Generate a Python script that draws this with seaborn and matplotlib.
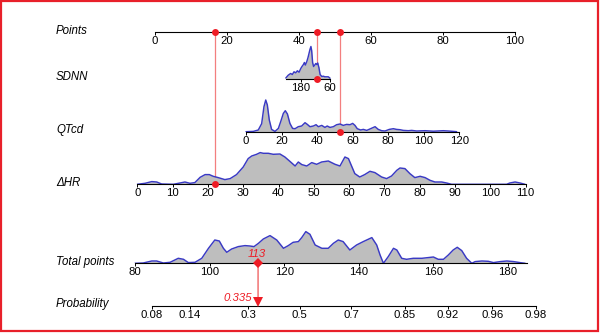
import numpy as np
import matplotlib
matplotlib.use("Agg")
import matplotlib.pyplot as plt
import matplotlib.transforms as mtransforms
from matplotlib.patches import Rectangle
import seaborn as sns

sns.set_theme(style="white")
plt.rcParams["font.family"] = ["Liberation Sans", "DejaVu Sans"]

# ---------------- nomogram data ----------------
points_ticks = [0, 20, 40, 60, 80, 100]
sdnn_ticks = [180, 60]
qtcd_ticks = [0, 20, 40, 60, 80, 100, 120]
hr_ticks = [0, 10, 20, 30, 40, 50, 60, 70, 80, 90, 100, 110]
total_ticks = [80, 100, 120, 140, 160, 180]
prob_ticks = [0.08, 0.14, 0.3, 0.5, 0.7, 0.85, 0.92, 0.96, 0.98]

# value -> points (linear)
sdnn_slope, sdnn_icpt = -0.0671, 52.64
qtcd_slope, qtcd_icpt = 0.4938, 25.28
hr_slope, hr_icpt = 0.9808, -4.917

# logistic model on total points
beta, alpha = 0.0615, -7.635

# distribution of each predictor (relative density)
sdnn_x = [243, 233, 223, 216, 209, 202, 195, 188, 181, 176, 170, 166, 162, 156,
          151, 147, 143, 139, 136, 132, 128, 123, 119, 115, 111, 106, 101, 94,
          88, 81, 67, 60]
sdnn_d = [0.5, 3.3, 5, 4, 6.7, 5.7, 7.7, 6.3, 10, 12, 14, 16, 13.5, 17,
          21, 25, 29, 32, 28, 16, 12, 13.5, 15, 14, 15.5, 11, 4, 2,
          2.3, 1.7, 1.7, 0.3]

qtcd_x = [0, 4.1, 6.9, 8.8, 10.1, 11.1, 12, 13.1, 14.4, 16.3, 18.2, 19.5, 21,
          22.1, 23.3, 24.7, 26.2, 27.6, 29.4, 31.3, 33.2, 34.5, 36, 37.9, 39.4,
          40.7, 42.6, 44.4, 45.7, 47.2, 49.1, 51, 52.9, 54.7, 56.6, 58.5, 60,
          61.3, 62.6, 64.5, 66, 67.9, 69.7, 72.6, 74.4, 76.3, 78.2, 80.6, 82.9,
          84.7, 86.6, 88.5, 91.3, 93.2, 96, 100.7, 105.4, 111, 113.8, 116.6,
          118.5]
qtcd_d = [0, 0.3, 1.7, 8, 25, 31.7, 26.7, 11.7, 2.3, 0.3, 3.3, 10, 18.3,
          21, 17.7, 8.3, 3.3, 3, 5, 5.7, 9, 7.3, 5, 5.7, 7,
          5, 6.3, 4.3, 5.7, 4.3, 5, 7, 7.7, 6.3, 7.3, 7, 8.3,
          6.3, 3, 1.7, 2.3, 1.3, 2.7, 5, 2.3, 1, 0.7, 2.3, 3,
          2.3, 2, 1.3, 1, 1.3, 0.7, 1, 0.5, 1, 0.7, 0.3,
          0]

hr_x = [0, 2.2, 4.1, 5.5, 6.9, 10.2, 12.1, 13.5, 14.9, 16.3, 17.8, 19.2, 20.4,
        21.5, 22.9, 24.8, 26.3, 28.1, 30, 31.4, 32.4, 33.8, 34.8, 35.7, 37.1,
        38.5, 40.4, 41.8, 43.2, 44.7, 45.6, 46.6, 48, 49.4, 50.8, 52.2, 54.1,
        56, 57.4, 58.8, 59.8, 61.6, 63, 64.4, 65.9, 67.3, 69.2, 70.6, 72, 73.5,
        74.4, 75.8, 77.2, 78.6, 80.1, 81.5, 82.9, 84.3, 86.2, 87.6, 89, 104.6,
        105.5, 107, 108.4, 109.8]
hr_d = [0, 1, 2.7, 2.3, 0.3, 0, 1.3, 2.3, 1, 1.7, 7, 9.7, 9.7,
        8, 6.7, 4.7, 5.7, 9.7, 17.3, 25.7, 28.3, 30, 31.7, 31, 31,
        30, 30.3, 27.3, 23, 18.3, 22.3, 19.7, 18.3, 21.7, 20, 22.3, 23.3,
        20, 18.3, 27.3, 25.7, 10.7, 7.3, 9.7, 13, 11.7, 7.3, 5.7, 8.3, 14,
        16.3, 15.7, 10.7, 6.7, 8, 6.7, 4, 2.3, 2.3, 1.3, 0, 0,
        1.3, 2.3, 1.3, 0]

total_x = [80, 82.2, 84.5, 85.8, 87.6, 89.4, 91.6, 93, 94.3, 96.1, 97.9, 99.7,
           101.4, 102.6, 103.7, 104.6, 105.9, 107.7, 109.5, 110.8, 111.9, 113.1,
           114.4, 116.2, 118, 119.8, 121.1, 122.4, 123.8, 124.7, 125.8, 126.9,
           128.3, 130.1, 131.8, 133.2, 134.5, 135.8, 137.6, 139.4, 141.2, 143.5,
           144.8, 145.7, 146.6, 147.9, 149.3, 150.2, 151.5, 152.8, 154.6, 156.9,
           158.6, 160, 161.3, 162.7, 164, 165.3, 166.4, 167.6, 168.9, 170.3,
           171.2, 173, 174.7, 176.1, 177.9, 179.7, 181.5, 183.2, 184.6]
total_d = [0, 0.3, 2.3, 2.3, 0.3, 1, 5, 4, 0.7, 1, 5, 15,
           23.3, 22.3, 15, 11, 14.3, 16.7, 17.7, 17.3, 16.7, 20,
           24.3, 27.7, 23.3, 15, 17.7, 21, 21.7, 25.7, 31.7, 29,
           18.3, 15, 15, 20, 23.3, 21.7, 13.3, 18.3, 21.7, 25.7,
           18.3, 8.3, 0, 6.7, 15, 13.3, 5, 4, 5, 5,
           5.7, 6.3, 4, 4, 8.3, 13.3, 16, 12.7, 5, 0,
           1.7, 2.3, 2, 0.7, 1.7, 2.3, 1.7, 0.7, 0]

# one patient
patient_sdnn, patient_qtcd, patient_hr = 112, 52.9, 22
patient_total = 113
patient_prob = 0.335

# ---------------- layout ----------------
W, H = 600, 333
RED = "#ee1c25"
LINK = "#f37f7f"
FILL = "#bebebe"
EDGE = "#3a3ac4"
TICK_FS = 8.2
LAB_FS = 8.3
ANN_FS = 8.2

fig = plt.figure(figsize=(W / 100, H / 100), dpi=100)
fig.patch.set_facecolor("white")

# pixel placement of the Points scale and Total points scale
pts_x0, pts_scale = 155, 3.6
tot_x0, tot_scale = 135, 3.73
pts_lim = (-pts_x0 / pts_scale, (W - pts_x0) / pts_scale)
tot_lim = (80 - tot_x0 / tot_scale, 80 + (W - tot_x0) / tot_scale)

rows = {"Points": 32.0, "SDNN": 78.5, "QTcd": 131.7, "\u0394HR": 184.3,
        "Total points": 263.3, "Probability": 305.7}


def yfrac(px):
    return 1 - px / H


def make_row(name, xlim, bounds, ticks, labels=None, height=40):
    ax = fig.add_axes([0, yfrac(rows[name]), 1, height / H])
    ax.set_facecolor("none")
    ax.set_xlim(*xlim)
    ax.set_ylim(0, height)
    for s in ("top", "left", "right"):
        ax.spines[s].set_visible(False)
    ax.spines["bottom"].set_bounds(*bounds)
    ax.spines["bottom"].set_linewidth(0.8)
    ax.spines["bottom"].set_color("black")
    ax.set_yticks([])
    ax.set_xticks(ticks)
    ax.set_xticklabels(labels if labels is not None else [f"{t:g}" for t in ticks])
    ax.tick_params(axis="x", bottom=True, direction="out", length=2.0, width=0.7,
                   pad=1.0, labelsize=TICK_FS, colors="black")
    fig.text(56 / W, yfrac(rows[name] + 1.5), name, fontsize=LAB_FS,
             style="italic", ha="left", va="baseline", color="black")
    return ax


def var_lim(slope, icpt):
    return ((pts_lim[0] - icpt) / slope, (pts_lim[1] - icpt) / slope)


def draw_density(ax, xs, ds):
    ax.fill_between(xs, 0, ds, color=FILL, lw=0, zorder=1)
    sns.lineplot(x=xs, y=ds, ax=ax, color=EDGE, lw=1.05, estimator=None,
                 sort=False, zorder=2)
    ax.set_xlabel("")
    ax.set_ylabel("")


ax_pts = make_row("Points", pts_lim, (0, 100), points_ticks)
ax_sdnn = make_row("SDNN", var_lim(sdnn_slope, sdnn_icpt), (60, 243), sdnn_ticks)
ax_qtcd = make_row("QTcd", var_lim(qtcd_slope, qtcd_icpt), (0, 120), qtcd_ticks)
ax_hr = make_row("\u0394HR", var_lim(hr_slope, hr_icpt), (0, 110), hr_ticks)
ax_tot = make_row("Total points", tot_lim, (80, 185), total_ticks)

prob_pos = [(np.log(p / (1 - p)) - alpha) / beta for p in prob_ticks]
ax_prob = make_row("Probability", tot_lim, (prob_pos[0], prob_pos[-1]), prob_pos,
                   labels=[f"{p:g}" for p in prob_ticks])

draw_density(ax_sdnn, sdnn_x, sdnn_d)
draw_density(ax_qtcd, qtcd_x, qtcd_d)
draw_density(ax_hr, hr_x, hr_d)
draw_density(ax_tot, total_x, total_d)

# patient's points for each predictor, linked to the Points scale
link_tr = mtransforms.blended_transform_factory(ax_pts.transData, fig.transFigure)
for ax, name, v, slope, icpt in [
        (ax_hr, "\u0394HR", patient_hr, hr_slope, hr_icpt),
        (ax_sdnn, "SDNN", patient_sdnn, sdnn_slope, sdnn_icpt),
        (ax_qtcd, "QTcd", patient_qtcd, qtcd_slope, qtcd_icpt)]:
    p = slope * v + icpt
    ax_pts.plot([p, p], [yfrac(rows["Points"]), yfrac(rows[name])], color=LINK,
                lw=0.9, transform=link_tr, clip_on=False, zorder=3)
    ax_pts.plot(p, 0, "o", color=RED, ms=5, mew=0, clip_on=False, zorder=5)
    ax.plot(v, 0, "o", color=RED, ms=5, mew=0, clip_on=False, zorder=5)

# total points -> probability
tot_tr = mtransforms.blended_transform_factory(ax_tot.transData, fig.transFigure)
prob_at = (np.log(patient_prob / (1 - patient_prob)) - alpha) / beta
ax_tot.plot([patient_total, prob_at],
            [yfrac(rows["Total points"]), yfrac(rows["Probability"] - 4)],
            color=LINK, lw=1.2, transform=tot_tr, clip_on=False, zorder=3)
ax_tot.plot(patient_total, 0, "D", color=RED, ms=5.2, mew=0, clip_on=False, zorder=5)
ax_tot.text(patient_total, 0, f"{patient_total}", color=RED, fontsize=ANN_FS,
            style="italic", ha="center", va="baseline", zorder=6,
            transform=mtransforms.offset_copy(ax_tot.transData, fig=fig,
                                              x=-1, y=6.5, units="dots"))
ax_prob.plot(prob_at, 0, "v", color=RED, ms=6.5, mew=0, clip_on=False, zorder=5,
             transform=mtransforms.offset_copy(ax_prob.transData, fig=fig,
                                               x=0, y=4, units="dots"))
ax_prob.text(prob_at, 0, f"{patient_prob:g}", color=RED, fontsize=ANN_FS,
             style="italic", ha="right", va="baseline", zorder=6,
             transform=mtransforms.offset_copy(ax_prob.transData, fig=fig,
                                               x=-6, y=5, units="dots"))

# red frame around the figure
fig.add_artist(Rectangle((1 / W, 2 / H), 597 / W, 330 / H, transform=fig.transFigure,
                         fill=False, edgecolor="#e8202a", lw=1.6))

fig.savefig("out.png", dpi=100, facecolor="white")
